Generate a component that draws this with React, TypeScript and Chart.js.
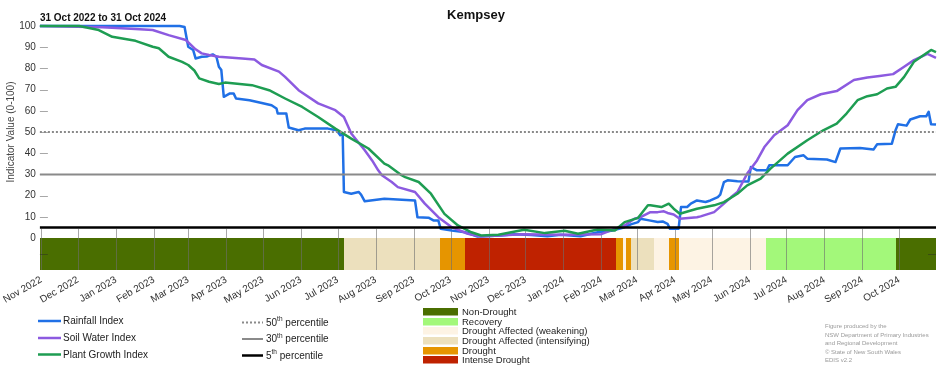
import React, { useEffect, useRef } from 'react';
import { Chart, registerables } from 'chart.js';

Chart.register(...registerables);

const FONT = '"Liberation Sans", Arial, Helvetica, sans-serif';

const chartTitle = 'Kempsey';
const periodLabel = '31 Oct 2022 to 31 Oct 2024';
const yAxisTitle = 'Indicator Value (0-100)';
const totalDays = 731; // days from 31 Oct 2022 to 31 Oct 2024
const bandFloor = -15.1;

const monthLabels = [
  'Nov 2022', 'Dec 2022', 'Jan 2023', 'Feb 2023', 'Mar 2023', 'Apr 2023', 'May 2023', 'Jun 2023',
  'Jul 2023', 'Aug 2023', 'Sep 2023', 'Oct 2023', 'Nov 2023', 'Dec 2023', 'Jan 2024', 'Feb 2024',
  'Mar 2024', 'Apr 2024', 'May 2024', 'Jun 2024', 'Jul 2024', 'Aug 2024', 'Sep 2024', 'Oct 2024',
];
const yTickValues = [0, 10, 20, 30, 40, 50, 60, 70, 80, 90, 100];

// days since 31 Oct 2022
const rainfallDays = [
  0, 114, 118, 121, 125, 127, 132, 136, 141, 144, 146, 148, 150, 155, 158, 160, 171, 181, 189, 193,
  194, 201, 203, 211, 216, 235, 242, 245, 247, 248, 254, 260, 262, 265, 281, 306, 308, 317, 321, 325,
  327, 336, 347, 357, 376, 387, 401, 414, 425, 441, 455, 466, 477, 482, 488, 490, 497, 504, 508, 512,
  514, 521, 523, 528, 531, 536, 543, 547, 553, 555, 558, 561, 569, 578, 580, 585, 593, 595, 610, 616,
  623, 626, 642, 649, 653, 669, 680, 683, 695, 698, 700, 707, 710, 718, 723, 725, 727, 731,
];
const rainfallValues = [
  100, 100, 99.5, 90.2, 88.7, 84.7, 85.5, 85.6, 86.6, 85.5, 80.8, 79.2, 66.6, 68.2, 68.2, 65.8, 65, 63.7, 62.6, 61.1,
  58.7, 58.7, 52.1, 50.8, 51.6, 51.6, 50.8, 48.5, 49.2, 21.7, 20.9, 21.7, 20.5, 17.3, 18.5, 17.7, 9.8, 9.6, 8.3, 8.3,
  4.3, 3.5, 2.7, 0.7, 1.2, 1.8, 1.4, 0.8, 1.5, 0.8, 2.7, 3.4, 5.1, 6.4, 7.5, 9.1, 8.3, 7.5, 7.8, 6.7,
  4.3, 4.3, 14.6, 14.6, 16.2, 17.7, 17.0, 17.7, 19.3, 20.5, 26.4, 27.2, 26.8, 26.6, 33.5, 31.9, 31.9, 34.3, 34.3, 38.2,
  39.0, 37.4, 37.0, 35.8, 42.2, 42.4, 41.7, 44.2, 44.5, 50.8, 53.7, 53.0, 55.9, 57.4, 57.4, 59.5, 53.7, 53.5,
];

const soilWaterDays = [
  0, 51, 78, 92, 105, 119, 127, 132, 138, 146, 165, 175, 181, 195, 200, 211, 227, 241, 248, 254,
  265, 271, 276, 279, 287, 292, 306, 314, 325, 336, 349, 360, 393, 425, 458, 469, 477, 485, 490, 498,
  504, 509, 512, 517, 522, 536, 539, 550, 558, 564, 569, 577, 585, 591, 599, 610, 618, 626, 637, 650,
  664, 675, 685, 696, 705, 713, 724, 731,
];
const soilWaterValues = [
  100, 99.4, 98.6, 98.1, 95.7, 93.4, 89, 87.1, 86.3, 85.5, 84.7, 84.2, 81.6, 78.5, 76, 69.7, 63.5, 60.3, 57.1, 49.3,
  41.4, 36.6, 31.9, 29.6, 26.4, 24, 21.7, 16.2, 9.8, 5.1, 2.0, 0.7, 1.8, 1.5, 1.8, 4.3, 5.9, 9.1, 9.8, 12.2,
  12.2, 12.6, 11.8, 11.1, 9.1, 9.8, 10.2, 12.2, 16.2, 19.3, 21.7, 30.4, 36.6, 42.9, 48.5, 53.2, 60.3, 65, 67.8, 69.3,
  74.5, 75.7, 76.4, 77.3, 80.8, 83.9, 86.8, 85,
];

const plantGrowthDays = [
  0, 32, 48, 59, 78, 92, 97, 105, 116, 121, 126, 130, 138, 146, 151, 159, 173, 187, 200, 214,
  227, 241, 254, 268, 281, 284, 295, 298, 309, 319, 330, 341, 352, 360, 374, 395, 412, 428, 439, 455,
  469, 477, 488, 496, 498, 507, 513, 517, 522, 536, 550, 558, 569, 577, 588, 596, 610, 626, 639, 650,
  658, 667, 675, 683, 691, 698, 705, 713, 721, 727, 731,
];
const plantGrowthValues = [
  100, 100, 98.1, 94.9, 93, 90.2, 89.5, 85.5, 83.1, 81.6, 79, 75.3, 73.7, 72.6, 73.3, 72.9, 72.1, 69.7, 65.8, 61.8,
  57.1, 51.6, 46.9, 42.2, 35.1, 34.3, 29.6, 28.7, 26.4, 20.9, 11.4, 5.9, 2.7, 1.2, 1.5, 3.9, 2.3, 3.4, 2.0, 4.0,
  3.5, 7.5, 9.5, 15.4, 15.4, 14.6, 16.2, 13.8, 11.4, 13.8, 15.4, 16.9, 20.9, 24.8, 28, 32.7, 39.8, 46.1, 50.8, 54,
  58.7, 65, 66.9, 67.8, 70.5, 71.3, 76, 83.1, 86.3, 88.7, 87.7,
];

const indexNames = ['Rainfall Index', 'Soil Water Index', 'Plant Growth Index'];
const indexColors = ['#2070e6', '#8c5ae0', '#1e9d52'];

const percentileLevels = [50, 30, 5];
const percentileOrdinals = ['50', '30', '5'];
const percentileColors = ['#8a8a8a', '#8a8a8a', '#000000'];

const droughtCategoryNames = [
  'Non-Drought', 'Recovery', 'Drought Affected (weakening)', 'Drought Affected (intensifying)', 'Drought', 'Intense Drought',
];
const droughtCategoryColors = ['#4a6e00', '#a3f87a', '#fdf3e4', '#ece0bd', '#e69500', '#bf2200'];
const droughtStartDays = [0, 248, 326.5, 346.5, 470, 476, 478.5, 482, 501, 513.5, 521.5, 592, 698];
const droughtCategoryIndex = [0, 3, 4, 5, 4, 2, 4, 3, 2, 4, 2, 1, 0];

const footnoteLines = [
  'Figure produced by the',
  'NSW Department of Primary Industries',
  'and Regional Development',
  '\u00A9 State of New South Wales',
  'EDIS v2.2',
];

const startMs = Date.UTC(2022, 9, 31);
const monthTickDays = monthLabels.map((_, i) => Math.round((Date.UTC(2022, 10 + i, 1) - startMs) / 86400000));

const toPoints = (days: number[], vals: number[]) => days.map((d, i) => ({ x: d, y: vals[i] }));

const customPlugin = {
  id: 'droughtCustom',
  beforeDatasetsDraw(chart: any) {
    const { ctx, chartArea, scales } = chart;
    const x = scales.x;
    const y = scales.y;
    const yTop = Math.round(y.getPixelForValue(0));
    const yBot = Math.round(chartArea.bottom);
    ctx.save();
    // drought band
    for (let i = 0; i < droughtStartDays.length; i++) {
      const d0 = droughtStartDays[i];
      const d1 = i + 1 < droughtStartDays.length ? droughtStartDays[i + 1] : totalDays;
      const x0 = Math.round(x.getPixelForValue(d0));
      const x1 = Math.round(x.getPixelForValue(d1));
      ctx.fillStyle = droughtCategoryColors[droughtCategoryIndex[i]];
      ctx.fillRect(x0, yTop, x1 - x0, yBot - yTop);
    }
    // month tick lines
    ctx.strokeStyle = 'rgba(110,110,110,0.6)';
    ctx.lineWidth = 1;
    const yTickTop = y.getPixelForValue(4.3);
    monthTickDays.forEach((d) => {
      const px = Math.round(x.getPixelForValue(d)) + 0.5;
      ctx.beginPath();
      ctx.moveTo(px, yTickTop);
      ctx.lineTo(px, yBot);
      ctx.stroke();
    });
    // inner y tick marks
    ctx.strokeStyle = '#a8a8a8';
    yTickValues.forEach((v) => {
      if (v === 0) return;
      const py = Math.round(y.getPixelForValue(v)) + 0.5;
      ctx.beginPath();
      ctx.moveTo(chartArea.left, py);
      ctx.lineTo(chartArea.left + 8, py);
      ctx.stroke();
    });
    // band tick marks
    ctx.strokeStyle = 'rgba(40,40,40,0.45)';
    const pyb = Math.round(y.getPixelForValue(bandFloor / 2)) + 0.5;
    ctx.beginPath();
    ctx.moveTo(chartArea.left, pyb);
    ctx.lineTo(chartArea.left + 8, pyb);
    ctx.moveTo(chartArea.right - 8, pyb);
    ctx.lineTo(chartArea.right, pyb);
    ctx.stroke();
    ctx.restore();
  },
  afterDraw(chart: any) {
    const { ctx, chartArea } = chart;
    ctx.save();
    ctx.textBaseline = 'middle';
    // title
    ctx.fillStyle = '#111';
    ctx.textAlign = 'center';
    ctx.font = `bold 13px ${FONT}`;
    ctx.fillText(chartTitle, 476, 15.5);
    ctx.textAlign = 'left';
    ctx.font = `bold 10px ${FONT}`;
    ctx.fillText(periodLabel, chartArea.left, 18.5);
    // y axis title
    ctx.save();
    ctx.translate(11, 132);
    ctx.rotate(-Math.PI / 2);
    ctx.textAlign = 'center';
    ctx.fillStyle = '#444';
    ctx.font = `10px ${FONT}`;
    ctx.fillText(yAxisTitle, 0, 0);
    ctx.restore();

    // index legend
    const idxRows = [321, 338, 354.5];
    indexNames.forEach((name, i) => {
      ctx.strokeStyle = indexColors[i];
      ctx.lineWidth = 2.5;
      ctx.setLineDash([]);
      ctx.beginPath();
      ctx.moveTo(38, idxRows[i]);
      ctx.lineTo(61, idxRows[i]);
      ctx.stroke();
      ctx.fillStyle = '#222';
      ctx.font = `10px ${FONT}`;
      ctx.fillText(name, 63, idxRows[i] + 0.5);
    });

    // percentile legend
    const pRows = [322.5, 339, 355.5];
    percentileLevels.forEach((lvl, i) => {
      ctx.strokeStyle = percentileColors[i];
      ctx.lineWidth = i === 2 ? 2.5 : 2;
      ctx.setLineDash(i === 0 ? [2, 2] : []);
      ctx.beginPath();
      ctx.moveTo(242, pRows[i]);
      ctx.lineTo(263, pRows[i]);
      ctx.stroke();
      ctx.setLineDash([]);
      ctx.fillStyle = '#222';
      let tx = 266;
      ctx.font = `10px ${FONT}`;
      const num = percentileOrdinals[i];
      ctx.fillText(num, tx, pRows[i] + 0.5);
      tx += ctx.measureText(num).width;
      ctx.font = `6.5px ${FONT}`;
      ctx.fillText('th', tx, pRows[i] - 3);
      tx += ctx.measureText('th').width;
      ctx.font = `10px ${FONT}`;
      ctx.fillText(' percentile', tx, pRows[i] + 0.5);
    });

    // drought legend
    droughtCategoryNames.forEach((name, i) => {
      const cy = 312 + i * 9.6;
      ctx.fillStyle = droughtCategoryColors[i];
      ctx.fillRect(423, Math.round(cy - 3.8), 35, 7.5);
      ctx.fillStyle = '#222';
      ctx.font = `9.5px ${FONT}`;
      ctx.fillText(name, 462, cy + 0.5);
    });

    // footnote
    ctx.fillStyle = '#9a9a9a';
    ctx.font = `6px ${FONT}`;
    const fRows = [326.7, 335, 343.3, 352, 360];
    footnoteLines.forEach((t, i) => ctx.fillText(t, 825, fRows[i]));
    ctx.restore();
  },
};

export default function App() {
  const canvasRef = useRef<HTMLCanvasElement | null>(null);

  useEffect(() => {
    document.body.style.margin = '0';
    const canvas = canvasRef.current;
    if (!canvas) return;

    const lineDs = (label: string, data: any[], color: string, width: number, order: number, dash: number[] = []) => ({
      label,
      data,
      borderColor: color,
      backgroundColor: color,
      borderWidth: width,
      borderDash: dash,
      pointRadius: 0,
      fill: false,
      tension: 0,
      order,
      clip: 4,
    });

    const chart = new Chart(canvas, {
      type: 'line',
      data: {
        datasets: [
          lineDs('5th percentile', [{ x: 0, y: percentileLevels[2] }, { x: totalDays, y: percentileLevels[2] }], percentileColors[2], 2.5, 0),
          lineDs('30th percentile', [{ x: 0, y: percentileLevels[1] }, { x: totalDays, y: percentileLevels[1] }], percentileColors[1], 2, 1),
          lineDs('50th percentile', [{ x: 0, y: percentileLevels[0] }, { x: totalDays, y: percentileLevels[0] }], percentileColors[0], 2, 2, [2, 2]),
          lineDs(indexNames[2], toPoints(plantGrowthDays, plantGrowthValues), indexColors[2], 2.5, 3),
          lineDs(indexNames[1], toPoints(soilWaterDays, soilWaterValues), indexColors[1], 2.5, 4),
          lineDs(indexNames[0], toPoints(rainfallDays, rainfallValues), indexColors[0], 2.5, 5),
        ],
      },
      options: {
        responsive: false,
        animation: false,
        devicePixelRatio: 1,
        layout: { padding: { top: 26, right: 16, left: 0, bottom: 0 } },
        plugins: {
          legend: { display: false },
          tooltip: { enabled: false },
          title: { display: false },
        },
        elements: { line: { borderJoinStyle: 'round' } },
        scales: {
          x: {
            type: 'linear',
            min: 0,
            max: totalDays,
            grid: { display: false, drawTicks: false },
            border: { display: false },
            afterBuildTicks: (s: any) => {
              s.ticks = monthTickDays.map((v) => ({ value: v }));
            },
            afterFit: (s: any) => {
              s.height = 100;
            },
            ticks: {
              autoSkip: false,
              maxRotation: 30,
              minRotation: 30,
              padding: 4,
              color: '#333',
              font: { family: FONT, size: 10 },
              callback: (_v: any, i: number) => monthLabels[i],
            },
          },
          y: {
            type: 'linear',
            min: bandFloor,
            max: 100,
            grid: { display: false, drawTicks: false },
            border: { display: false },
            afterBuildTicks: (s: any) => {
              s.ticks = yTickValues.map((v) => ({ value: v }));
            },
            afterFit: (s: any) => {
              s.width = 37.5;
            },
            ticks: {
              padding: 4,
              color: '#333',
              font: { family: FONT, size: 10 },
            },
          },
        },
      } as any,
      plugins: [customPlugin],
    });

    return () => chart.destroy();
  }, []);

  return (
    <div style={{ width: 952, height: 370 }}>
      <canvas ref={canvasRef} width={952} height={370} style={{ display: 'block' }} />
    </div>
  );
}
